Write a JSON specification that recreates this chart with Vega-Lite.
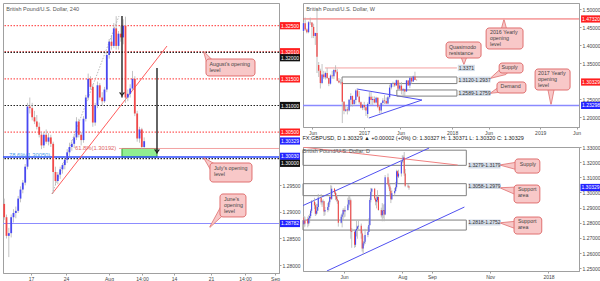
{
"$schema":"https://vega.github.io/schema/vega-lite/v6.json",
"background":"white",
"padding":{"left":1,"top":2,"right":0,"bottom":0},
"config":{
 "font":"Liberation Sans",
 "view":{"stroke":"#a0a0a0"},
 "axis":{"labelFontSize":5,"labelColor":"#444444","domainColor":"#a0a0a0","tickColor":"#a0a0a0","tickSize":2,"labelPadding":1,"grid":false,"labelOverlap":false},
 "title":{"fontSize":5.5,"fontWeight":"normal","color":"#555555","anchor":"start"},
 "legend":{"disable":true}
},
"datasets":{
 "L_c":[
  {"t":-3.83,"o":1.2915,"h":1.2925,"l":1.2885,"c":1.289},
  {"t":-3.5,"o":1.289,"h":1.2895,"l":1.285,"c":1.2855},
  {"t":-3.17,"o":1.2855,"h":1.287,"l":1.2815,"c":1.286},
  {"t":-2.83,"o":1.286,"h":1.2895,"l":1.2852,"c":1.289},
  {"t":-2.5,"o":1.289,"h":1.2905,"l":1.288,"c":1.2898},
  {"t":-2.17,"o":1.2898,"h":1.291,"l":1.2888,"c":1.2902},
  {"t":-1.83,"o":1.2902,"h":1.293,"l":1.2898,"c":1.2925},
  {"t":-1.5,"o":1.2925,"h":1.2948,"l":1.2918,"c":1.2942},
  {"t":-1.17,"o":1.2942,"h":1.296,"l":1.2935,"c":1.2955},
  {"t":-0.83,"o":1.2955,"h":1.299,"l":1.295,"c":1.2985},
  {"t":-0.5,"o":1.2985,"h":1.3105,"l":1.298,"c":1.3098},
  {"t":-0.17,"o":1.3098,"h":1.3115,"l":1.3085,"c":1.3095},
  {"t":0.17,"o":1.3095,"h":1.3105,"l":1.3072,"c":1.3078},
  {"t":0.5,"o":1.3078,"h":1.309,"l":1.3065,"c":1.307},
  {"t":0.83,"o":1.307,"h":1.3082,"l":1.3055,"c":1.306},
  {"t":1.17,"o":1.306,"h":1.3068,"l":1.304,"c":1.3045},
  {"t":1.5,"o":1.3045,"h":1.305,"l":1.3018,"c":1.3025},
  {"t":1.83,"o":1.3025,"h":1.305,"l":1.302,"c":1.3045},
  {"t":2.17,"o":1.3045,"h":1.3055,"l":1.3028,"c":1.3032},
  {"t":2.5,"o":1.3032,"h":1.3048,"l":1.3025,"c":1.304},
  {"t":2.83,"o":1.304,"h":1.3045,"l":1.3022,"c":1.3028},
  {"t":3.17,"o":1.3028,"h":1.3032,"l":1.2935,"c":1.2975},
  {"t":3.5,"o":1.2975,"h":1.2985,"l":1.295,"c":1.2958},
  {"t":3.83,"o":1.2958,"h":1.2975,"l":1.2952,"c":1.297},
  {"t":4.17,"o":1.297,"h":1.2985,"l":1.2962,"c":1.298},
  {"t":4.5,"o":1.298,"h":1.2992,"l":1.2972,"c":1.2988},
  {"t":4.83,"o":1.2988,"h":1.3002,"l":1.298,"c":1.2998},
  {"t":5.17,"o":1.2998,"h":1.3018,"l":1.2992,"c":1.3012},
  {"t":5.5,"o":1.3012,"h":1.303,"l":1.3005,"c":1.3022},
  {"t":5.83,"o":1.3022,"h":1.3035,"l":1.3015,"c":1.3028},
  {"t":6.17,"o":1.3028,"h":1.3045,"l":1.302,"c":1.304},
  {"t":6.5,"o":1.304,"h":1.3078,"l":1.3035,"c":1.307},
  {"t":6.83,"o":1.307,"h":1.3075,"l":1.304,"c":1.3045},
  {"t":7.17,"o":1.3045,"h":1.305,"l":1.3025,"c":1.3035},
  {"t":7.5,"o":1.3035,"h":1.308,"l":1.303,"c":1.3075},
  {"t":7.83,"o":1.3075,"h":1.312,"l":1.307,"c":1.3115},
  {"t":8.17,"o":1.3115,"h":1.316,"l":1.311,"c":1.315},
  {"t":8.5,"o":1.315,"h":1.3155,"l":1.313,"c":1.3135},
  {"t":8.83,"o":1.3135,"h":1.314,"l":1.306,"c":1.3068},
  {"t":9.17,"o":1.3068,"h":1.3105,"l":1.3062,"c":1.31},
  {"t":9.5,"o":1.31,"h":1.3145,"l":1.3095,"c":1.3138},
  {"t":9.83,"o":1.3138,"h":1.3142,"l":1.311,"c":1.3115},
  {"t":10.17,"o":1.3115,"h":1.3125,"l":1.31,"c":1.3108},
  {"t":10.5,"o":1.3108,"h":1.3135,"l":1.3105,"c":1.313},
  {"t":10.83,"o":1.313,"h":1.32,"l":1.3125,"c":1.3195},
  {"t":11.17,"o":1.3195,"h":1.3225,"l":1.3188,"c":1.322},
  {"t":11.5,"o":1.322,"h":1.3232,"l":1.3205,"c":1.3212},
  {"t":11.83,"o":1.3212,"h":1.3255,"l":1.3208,"c":1.3245},
  {"t":12.17,"o":1.3245,"h":1.3268,"l":1.3205,"c":1.3212},
  {"t":12.5,"o":1.3212,"h":1.324,"l":1.3205,"c":1.3235},
  {"t":12.83,"o":1.3235,"h":1.325,"l":1.322,"c":1.3228},
  {"t":13.17,"o":1.3228,"h":1.3262,"l":1.3215,"c":1.325},
  {"t":13.5,"o":1.325,"h":1.3267,"l":1.3105,"c":1.3115},
  {"t":13.83,"o":1.3115,"h":1.313,"l":1.3108,"c":1.3122},
  {"t":14.17,"o":1.3122,"h":1.314,"l":1.3115,"c":1.3132},
  {"t":14.5,"o":1.3132,"h":1.3165,"l":1.3128,"c":1.315},
  {"t":14.83,"o":1.315,"h":1.3155,"l":1.308,"c":1.3085},
  {"t":15.17,"o":1.3085,"h":1.309,"l":1.3032,"c":1.3038},
  {"t":15.5,"o":1.3038,"h":1.306,"l":1.303,"c":1.3055},
  {"t":15.83,"o":1.3055,"h":1.3058,"l":1.3018,"c":1.3022},
  {"t":16.17,"o":1.3022,"h":1.304,"l":1.3019,"c":1.30329}
 ],
 "L_lv":[
  {"p":1.325,"k":"r"},{"p":1.3201,"k":"r"},{"p":1.32,"k":"k"},{"p":1.315,"k":"r"},{"p":1.31,"k":"k"},
  {"p":1.305,"k":"r"},{"p":1.3003,"k":"b"},{"p":1.3,"k":"k"},{"p":1.28782,"k":"lb"}
 ],
 "L_seg":[
  {"t":3,"p":1.29337,"t2":19.43,"p2":1.32118,"k":"tr"},
  {"t":3,"p":1.29337,"t2":12.57,"p2":1.32682,"k":"gd"},
  {"t":12.57,"p":1.30192,"t2":35.43,"p2":1.30192,"k":"fib"},
  {"t":13,"p":1.32682,"t2":13,"p2":1.3115,"k":"ar"},
  {"t":18,"p":1.31705,"t2":18,"p2":1.301,"k":"ar"}
 ],
 "L_zone":[{"t":13,"t2":18,"p":1.30192,"p2":1.3003}],
 "L_head":[{"t":13,"p":1.3122},{"t":18,"p":1.30145}],
 "L_fib":[
  {"t":6.29,"p":1.30192,"txt":"61.8%(1.30192)","k":"a"},
  {"t":-3.14,"p":1.3007,"txt":"78.6%(1.30050)","k":"b"}
 ],
 "L_box":[
  {"id":"aug","t":25.0,"t2":32.0,"p":1.31874,"p2":1.31555},
  {"id":"jul","t":25.57,"t2":31.57,"p":1.29919,"p2":1.29562},
  {"id":"jun","t":27.0,"t2":30.71,"p":1.29337,"p2":1.28905}
 ],
 "L_ptr":[
  {"id":"aug","t":25.71,"p":1.31779,"e":"base"},{"id":"aug","t":24.71,"p":1.32006,"e":"tip"},
  {"id":"jul","t":26.14,"p":1.29825,"e":"base"},{"id":"jul","t":24.71,"p":1.30013,"e":"tip"},
  {"id":"jun","t":27.57,"p":1.29055,"e":"base"},{"id":"jun","t":25.57,"p":1.28716,"e":"tip"}
 ],
 "L_txt":[
  {"t":25.5,"p":1.31827,"txt":"August's opening\nlevel"},
  {"t":26.14,"p":1.29872,"txt":"July's opening\nlevel"},
  {"t":27.57,"p":1.29289,"txt":"June's\nopening\nlevel"}
 ],
 "L_tag":[
  {"t":37,"p":1.325,"lab":"1.32500","k":"r"},{"t":37,"p":1.32011,"lab":"1.32010","k":"r"},{"t":37,"p":1.31898,"lab":"1.32000","k":"k"},
  {"t":37,"p":1.315,"lab":"1.31500","k":"r"},{"t":37,"p":1.31,"lab":"1.31000","k":"k"},{"t":37,"p":1.305,"lab":"1.30500","k":"r"},
  {"t":37,"p":1.30333,"lab":"1.30329","k":"b"},{"t":37,"p":1.30045,"lab":"1.30030","k":"b"},{"t":37,"p":1.29913,"lab":"1.30000","k":"k"},
  {"t":37,"p":1.28782,"lab":"1.28782","k":"b"}
 ],
 "T_c":[
  {"d":"2016-04-25","o":1.44,"h":1.464,"l":1.437,"c":1.4615},
  {"d":"2016-05-02","o":1.4615,"h":1.477,"l":1.44,"c":1.444},
  {"d":"2016-05-09","o":1.444,"h":1.447,"l":1.433,"c":1.4365},
  {"d":"2016-05-16","o":1.4365,"h":1.467,"l":1.4335,"c":1.464},
  {"d":"2016-05-23","o":1.464,"h":1.477,"l":1.457,"c":1.463},
  {"d":"2016-05-30","o":1.463,"h":1.464,"l":1.42,"c":1.451},
  {"d":"2016-06-06","o":1.451,"h":1.46,"l":1.42,"c":1.426},
  {"d":"2016-06-13","o":1.426,"h":1.435,"l":1.401,"c":1.434},
  {"d":"2016-06-20","o":1.434,"h":1.502,"l":1.323,"c":1.368},
  {"d":"2016-06-27","o":1.345,"h":1.3535,"l":1.312,"c":1.3295},
  {"d":"2016-07-04","o":1.3295,"h":1.335,"l":1.28,"c":1.295},
  {"d":"2016-07-11","o":1.295,"h":1.348,"l":1.292,"c":1.319},
  {"d":"2016-07-18","o":1.319,"h":1.329,"l":1.306,"c":1.311},
  {"d":"2016-07-25","o":1.311,"h":1.327,"l":1.305,"c":1.323},
  {"d":"2016-08-01","o":1.323,"h":1.337,"l":1.306,"c":1.309},
  {"d":"2016-08-08","o":1.309,"h":1.31,"l":1.2865,"c":1.2935},
  {"d":"2016-08-15","o":1.2935,"h":1.319,"l":1.291,"c":1.316},
  {"d":"2016-08-22","o":1.316,"h":1.329,"l":1.307,"c":1.314},
  {"d":"2016-08-29","o":1.314,"h":1.334,"l":1.306,"c":1.3315},
  {"d":"2016-09-05","o":1.3315,"h":1.3445,"l":1.322,"c":1.3265},
  {"d":"2016-09-12","o":1.3265,"h":1.334,"l":1.3,"c":1.3015},
  {"d":"2016-09-19","o":1.3015,"h":1.309,"l":1.2945,"c":1.297},
  {"d":"2016-09-26","o":1.297,"h":1.306,"l":1.2915,"c":1.2975},
  {"d":"2016-10-03","o":1.2975,"h":1.299,"l":1.184,"c":1.243},
  {"d":"2016-10-10","o":1.243,"h":1.245,"l":1.2085,"c":1.2185},
  {"d":"2016-10-17","o":1.2185,"h":1.233,"l":1.215,"c":1.222},
  {"d":"2016-10-24","o":1.222,"h":1.229,"l":1.208,"c":1.219},
  {"d":"2016-10-31","o":1.219,"h":1.251,"l":1.216,"c":1.2485},
  {"d":"2016-11-07","o":1.2485,"h":1.267,"l":1.23,"c":1.2595},
  {"d":"2016-11-14","o":1.2595,"h":1.26,"l":1.23,"c":1.237},
  {"d":"2016-11-21","o":1.237,"h":1.251,"l":1.232,"c":1.248},
  {"d":"2016-11-28","o":1.248,"h":1.278,"l":1.238,"c":1.2745},
  {"d":"2016-12-05","o":1.2745,"h":1.2775,"l":1.256,"c":1.258},
  {"d":"2016-12-12","o":1.258,"h":1.273,"l":1.2375,"c":1.2415},
  {"d":"2016-12-19","o":1.2415,"h":1.244,"l":1.225,"c":1.2265},
  {"d":"2016-12-26","o":1.2265,"h":1.237,"l":1.22,"c":1.234},
  {"d":"2017-01-02","o":1.234,"h":1.243,"l":1.22,"c":1.228},
  {"d":"2017-01-09","o":1.228,"h":1.232,"l":1.2035,"c":1.219},
  {"d":"2017-01-16","o":1.209,"h":1.2415,"l":1.1985,"c":1.237},
  {"d":"2017-01-23","o":1.237,"h":1.2705,"l":1.236,"c":1.257},
  {"d":"2017-01-30","o":1.257,"h":1.2705,"l":1.2345,"c":1.248},
  {"d":"2017-02-06","o":1.248,"h":1.258,"l":1.2345,"c":1.2505},
  {"d":"2017-02-13","o":1.2505,"h":1.258,"l":1.2385,"c":1.241},
  {"d":"2017-02-20","o":1.241,"h":1.257,"l":1.238,"c":1.2545},
  {"d":"2017-02-27","o":1.2545,"h":1.2555,"l":1.225,"c":1.2295},
  {"d":"2017-03-06","o":1.2295,"h":1.2315,"l":1.211,"c":1.219},
  {"d":"2017-03-13","o":1.219,"h":1.2415,"l":1.211,"c":1.2395},
  {"d":"2017-03-20","o":1.2395,"h":1.253,"l":1.2345,"c":1.247},
  {"d":"2017-03-27","o":1.247,"h":1.2615,"l":1.237,"c":1.245},
  {"d":"2017-04-03","o":1.245,"h":1.255,"l":1.2365,"c":1.238},
  {"d":"2017-04-10","o":1.238,"h":1.26,"l":1.2365,"c":1.256},
  {"d":"2017-04-17","o":1.256,"h":1.2905,"l":1.2515,"c":1.2825},
  {"d":"2017-04-24","o":1.2825,"h":1.295,"l":1.2775,"c":1.2945},
  {"d":"2017-05-01","o":1.2945,"h":1.299,"l":1.284,"c":1.2955},
  {"d":"2017-05-08","o":1.2955,"h":1.297,"l":1.284,"c":1.2885},
  {"d":"2017-05-15","o":1.2885,"h":1.305,"l":1.288,"c":1.303},
  {"d":"2017-05-22","o":1.303,"h":1.3045,"l":1.2775,"c":1.2795},
  {"d":"2017-05-29","o":1.2795,"h":1.297,"l":1.277,"c":1.288},
  {"d":"2017-06-05","o":1.288,"h":1.298,"l":1.2635,"c":1.2745},
  {"d":"2017-06-12","o":1.2745,"h":1.2815,"l":1.259,"c":1.278},
  {"d":"2017-06-19","o":1.278,"h":1.2795,"l":1.259,"c":1.272},
  {"d":"2017-06-26","o":1.272,"h":1.303,"l":1.2705,"c":1.3025},
  {"d":"2017-07-03","o":1.3025,"h":1.303,"l":1.288,"c":1.2885},
  {"d":"2017-07-10","o":1.2885,"h":1.3125,"l":1.281,"c":1.31},
  {"d":"2017-07-17","o":1.31,"h":1.3125,"l":1.293,"c":1.2995},
  {"d":"2017-07-24","o":1.2995,"h":1.316,"l":1.2985,"c":1.3135},
  {"d":"2017-07-31","o":1.3135,"h":1.3267,"l":1.303,"c":1.3035},
  {"d":"2017-08-07","o":1.3035,"h":1.3057,"l":1.3018,"c":1.30329}
 ],
 "T_lv":[{"p":1.4732,"k":"r"},{"p":1.23298,"k":"b"}],
 "T_seg":[
  {"d":"2016-07-23","p":1.3371,"d2":"2018-01-21","p2":1.3371,"k":"qm"},
  {"d":"2016-12-02","p":1.2786,"d2":"2017-08-29","p2":1.248,"k":"tri"},
  {"d":"2017-01-21","p":1.198,"d2":"2017-08-29","p2":1.248,"k":"tri"}
 ],
 "T_zone":[
  {"d":"2016-10-02","d2":"2018-01-21","p":1.312,"p2":1.2937},
  {"d":"2017-05-17","d2":"2018-01-21","p":1.2759,"p2":1.2589}
 ],
 "T_zlab":[
  {"d":"2018-04-04","p":1.305,"lab":"1.3120-1.2937","w":"wide"},
  {"d":"2018-04-04","p":1.2675,"lab":"1.2589-1.2759","w":"wide"},
  {"d":"2018-03-01","p":1.3371,"lab":"1.3371","w":"narrow"}
 ],
 "T_box":[
  {"id":"y16","d":"2018-05-22","d2":"2018-10-22","p":1.4481,"p2":1.3897},
  {"id":"qm","d":"2017-12-07","d2":"2018-05-01","p":1.4092,"p2":1.3647},
  {"id":"sup","d":"2018-07-15","d2":"2018-10-22","p":1.3508,"p2":1.3231},
  {"id":"dem","d":"2018-07-06","d2":"2018-11-03","p":1.2981,"p2":1.2675},
  {"id":"y17","d":"2018-12-11","d2":"2019-05-05","p":1.3342,"p2":1.2758}
 ],
 "T_ptr":[
  {"id":"y16","d":"2018-08-04","p":1.4314,"e":"base"},{"id":"y16","d":"2018-08-04","p":1.4703,"e":"tip"},
  {"id":"qm","d":"2018-02-19","p":1.3758,"e":"base"},{"id":"qm","d":"2018-02-19","p":1.348,"e":"tip"},
  {"id":"sup","d":"2018-08-04","p":1.3286,"e":"base"},{"id":"sup","d":"2018-06-11","p":1.3092,"e":"tip"},
  {"id":"dem","d":"2018-08-04","p":1.2814,"e":"base"},{"id":"dem","d":"2018-06-11","p":1.2675,"e":"tip"},
  {"id":"y17","d":"2019-02-15","p":1.2897,"e":"base"},{"id":"y17","d":"2019-02-15","p":1.2369,"e":"tip"}
 ],
 "T_txt":[
  {"d":"2018-06-07","p":1.4425,"txt":"2016 Yearly\nopening\nlevel"},
  {"d":"2017-12-19","p":1.4008,"txt":"Quasimodo\nresistance"},
  {"d":"2018-07-25","p":1.3455,"txt":"Supply"},
  {"d":"2018-07-21","p":1.2915,"txt":"Demand"},
  {"d":"2018-12-23","p":1.3286,"txt":"2017 Yearly\nopening\nlevel"}
 ],
 "T_tag":[
  {"d":"2019-07-31","p":1.4732,"lab":"1.47320","k":"r"},{"d":"2019-07-31","p":1.298,"lab":"1.30329","k":"r"},{"d":"2019-07-31","p":1.23298,"lab":"1.23298","k":"b"}
 ],
 "B_c":[
  {"d":"2017-04-18","o":1.2555,"h":1.2905,"l":1.2515,"c":1.2835},
  {"d":"2017-04-19","o":1.2835,"h":1.2845,"l":1.276,"c":1.279},
  {"d":"2017-04-20","o":1.279,"h":1.2845,"l":1.277,"c":1.2815},
  {"d":"2017-04-21","o":1.2815,"h":1.284,"l":1.2775,"c":1.2795},
  {"d":"2017-04-24","o":1.2825,"h":1.284,"l":1.277,"c":1.2795},
  {"d":"2017-04-25","o":1.2795,"h":1.285,"l":1.278,"c":1.283},
  {"d":"2017-04-26","o":1.283,"h":1.286,"l":1.28,"c":1.2845},
  {"d":"2017-04-27","o":1.2845,"h":1.289,"l":1.283,"c":1.288},
  {"d":"2017-04-28","o":1.288,"h":1.295,"l":1.2865,"c":1.294},
  {"d":"2017-05-01","o":1.294,"h":1.2965,"l":1.289,"c":1.2915},
  {"d":"2017-05-02","o":1.2915,"h":1.2935,"l":1.2845,"c":1.286},
  {"d":"2017-05-03","o":1.286,"h":1.2925,"l":1.285,"c":1.288},
  {"d":"2017-05-04","o":1.288,"h":1.2925,"l":1.286,"c":1.2905},
  {"d":"2017-05-05","o":1.2905,"h":1.299,"l":1.288,"c":1.2965},
  {"d":"2017-05-08","o":1.2965,"h":1.299,"l":1.292,"c":1.2935},
  {"d":"2017-05-09","o":1.2935,"h":1.295,"l":1.2905,"c":1.294},
  {"d":"2017-05-10","o":1.294,"h":1.2955,"l":1.292,"c":1.2942},
  {"d":"2017-05-11","o":1.2942,"h":1.2945,"l":1.2845,"c":1.2875},
  {"d":"2017-05-12","o":1.2875,"h":1.2905,"l":1.285,"c":1.2885},
  {"d":"2017-05-15","o":1.2885,"h":1.293,"l":1.287,"c":1.2905},
  {"d":"2017-05-16","o":1.2905,"h":1.2945,"l":1.288,"c":1.2935},
  {"d":"2017-05-17","o":1.2935,"h":1.298,"l":1.292,"c":1.297},
  {"d":"2017-05-18","o":1.297,"h":1.3048,"l":1.2955,"c":1.2958},
  {"d":"2017-05-19","o":1.2958,"h":1.3045,"l":1.295,"c":1.3025},
  {"d":"2017-05-22","o":1.3025,"h":1.303,"l":1.299,"c":1.3},
  {"d":"2017-05-23","o":1.3,"h":1.301,"l":1.295,"c":1.2975},
  {"d":"2017-05-24","o":1.2975,"h":1.2995,"l":1.294,"c":1.2955},
  {"d":"2017-05-25","o":1.2955,"h":1.2975,"l":1.2925,"c":1.2945},
  {"d":"2017-05-26","o":1.2945,"h":1.295,"l":1.2775,"c":1.28},
  {"d":"2017-05-29","o":1.28,"h":1.2855,"l":1.2795,"c":1.284},
  {"d":"2017-05-30","o":1.284,"h":1.2865,"l":1.277,"c":1.2855},
  {"d":"2017-05-31","o":1.2855,"h":1.2895,"l":1.2815,"c":1.2885},
  {"d":"2017-06-01","o":1.2885,"h":1.2895,"l":1.2835,"c":1.2875},
  {"d":"2017-06-02","o":1.2875,"h":1.291,"l":1.284,"c":1.2885},
  {"d":"2017-06-05","o":1.2885,"h":1.2965,"l":1.288,"c":1.292},
  {"d":"2017-06-06","o":1.292,"h":1.298,"l":1.29,"c":1.295},
  {"d":"2017-06-07","o":1.295,"h":1.2975,"l":1.2915,"c":1.2948},
  {"d":"2017-06-08","o":1.2948,"h":1.296,"l":1.2695,"c":1.2745},
  {"d":"2017-06-09","o":1.2745,"h":1.2765,"l":1.2635,"c":1.274},
  {"d":"2017-06-12","o":1.274,"h":1.2755,"l":1.2635,"c":1.2655},
  {"d":"2017-06-13","o":1.2655,"h":1.2755,"l":1.264,"c":1.275},
  {"d":"2017-06-14","o":1.275,"h":1.2815,"l":1.271,"c":1.276},
  {"d":"2017-06-15","o":1.276,"h":1.278,"l":1.2695,"c":1.2775},
  {"d":"2017-06-16","o":1.2775,"h":1.2815,"l":1.2755,"c":1.278},
  {"d":"2017-06-19","o":1.278,"h":1.2795,"l":1.2695,"c":1.273},
  {"d":"2017-06-20","o":1.273,"h":1.2745,"l":1.261,"c":1.263},
  {"d":"2017-06-21","o":1.263,"h":1.268,"l":1.259,"c":1.2665},
  {"d":"2017-06-22","o":1.2665,"h":1.2715,"l":1.265,"c":1.2675},
  {"d":"2017-06-23","o":1.2675,"h":1.276,"l":1.266,"c":1.272},
  {"d":"2017-06-26","o":1.272,"h":1.2775,"l":1.2705,"c":1.274},
  {"d":"2017-06-27","o":1.274,"h":1.283,"l":1.274,"c":1.2785},
  {"d":"2017-06-28","o":1.2785,"h":1.2965,"l":1.278,"c":1.295},
  {"d":"2017-06-29","o":1.295,"h":1.303,"l":1.2935,"c":1.3005},
  {"d":"2017-06-30","o":1.3005,"h":1.303,"l":1.2985,"c":1.3025},
  {"d":"2017-07-03","o":1.3025,"h":1.303,"l":1.295,"c":1.296},
  {"d":"2017-07-04","o":1.296,"h":1.2965,"l":1.2915,"c":1.294},
  {"d":"2017-07-05","o":1.294,"h":1.2975,"l":1.2895,"c":1.295},
  {"d":"2017-07-06","o":1.295,"h":1.3015,"l":1.2935,"c":1.297},
  {"d":"2017-07-07","o":1.297,"h":1.2975,"l":1.288,"c":1.2885},
  {"d":"2017-07-10","o":1.2885,"h":1.29,"l":1.2835,"c":1.285},
  {"d":"2017-07-11","o":1.285,"h":1.293,"l":1.281,"c":1.288},
  {"d":"2017-07-12","o":1.288,"h":1.292,"l":1.283,"c":1.2885},
  {"d":"2017-07-13","o":1.2885,"h":1.2925,"l":1.281,"c":1.2855},
  {"d":"2017-07-14","o":1.2855,"h":1.3115,"l":1.285,"c":1.31},
  {"d":"2017-07-17","o":1.31,"h":1.3125,"l":1.305,"c":1.3055},
  {"d":"2017-07-18","o":1.3055,"h":1.3085,"l":1.3025,"c":1.304},
  {"d":"2017-07-19","o":1.304,"h":1.3055,"l":1.2975,"c":1.301},
  {"d":"2017-07-20","o":1.301,"h":1.303,"l":1.293,"c":1.2955},
  {"d":"2017-07-21","o":1.2955,"h":1.3015,"l":1.295,"c":1.2995},
  {"d":"2017-07-24","o":1.2995,"h":1.303,"l":1.298,"c":1.301},
  {"d":"2017-07-25","o":1.301,"h":1.307,"l":1.3005,"c":1.3035},
  {"d":"2017-07-26","o":1.3035,"h":1.315,"l":1.3025,"c":1.314},
  {"d":"2017-07-27","o":1.314,"h":1.3145,"l":1.306,"c":1.3105},
  {"d":"2017-07-28","o":1.3105,"h":1.315,"l":1.3095,"c":1.3125},
  {"d":"2017-07-31","o":1.3125,"h":1.3215,"l":1.3105,"c":1.3205},
  {"d":"2017-08-01","o":1.3205,"h":1.3245,"l":1.319,"c":1.3215},
  {"d":"2017-08-02","o":1.3215,"h":1.3245,"l":1.3195,"c":1.323},
  {"d":"2017-08-03","o":1.323,"h":1.3267,"l":1.311,"c":1.3125},
  {"d":"2017-08-04","o":1.3125,"h":1.3155,"l":1.3035,"c":1.3045},
  {"d":"2017-08-07","o":1.3045,"h":1.3057,"l":1.303,"c":1.304},
  {"d":"2017-08-08","o":1.304,"h":1.3045,"l":1.3018,"c":1.30329}
 ],
 "B_zone":[
  {"d":"2017-04-19","d2":"2017-10-07","p":1.3279,"p2":1.3179},
  {"d":"2017-04-19","d2":"2017-10-07","p":1.3058,"p2":1.2979},
  {"d":"2017-04-19","d2":"2017-10-07","p":1.2818,"p2":1.2752}
 ],
 "B_seg":[
  {"d":"2017-04-18","p":1.2911,"d2":"2017-08-29","p2":1.3293,"k":"ch"},
  {"d":"2017-05-14","p":1.2482,"d2":"2017-10-05","p2":1.2904,"k":"ch"},
  {"d":"2017-04-18","p":1.33,"d2":"2017-09-28","p2":1.3181,"k":"red"}
 ],
 "B_zlab":[
  {"d":"2017-10-26","p":1.3178,"lab":"1.3279-1.3179"},
  {"d":"2017-10-26","p":1.3043,"lab":"1.3058-1.2979"},
  {"d":"2017-10-26","p":1.2802,"lab":"1.2818-1.2752"}
 ],
 "B_box":[
  {"id":"sup","d":"2017-11-27","d2":"2017-12-23","p":1.3221,"p2":1.3128},
  {"id":"sa1","d":"2017-11-26","d2":"2017-12-23","p":1.3049,"p2":1.2931},
  {"id":"sa2","d":"2017-11-26","d2":"2017-12-25","p":1.2838,"p2":1.2726}
 ],
 "B_ptr":[
  {"id":"sup","d":"2017-11-30","p":1.3175,"e":"base"},{"id":"sup","d":"2017-11-12","p":1.3181,"e":"tip"},
  {"id":"sa1","d":"2017-11-29","p":1.301,"e":"base"},{"id":"sa1","d":"2017-11-12","p":1.303,"e":"tip"},
  {"id":"sa2","d":"2017-11-29","p":1.2785,"e":"base"},{"id":"sa2","d":"2017-11-12","p":1.2799,"e":"tip"}
 ],
 "B_txt":[
  {"d":"2017-12-02","p":1.3201,"txt":"Supply"},
  {"d":"2017-11-30","p":1.3033,"txt":"Support\narea"},
  {"d":"2017-11-30","p":1.2822,"txt":"Support\narea"}
 ],
 "B_tag":[{"d":"2018-02-14","p":1.30329,"lab":"1.30329","k":"b"}]
},
"hconcat":[
 {
  "width":276,"height":270,
  "title":{"text":"British Pound/U.S. Dollar, 240","offset":-9,"dx":4},
  "layer":[
   {"data":{"name":"L_zone"},"mark":{"type":"rect","fill":"#90ee90","stroke":"#2c9e2c","strokeWidth":1},
    "encoding":{
     "x":{"field":"t","type":"quantitative","title":null,"scale":{"domain":[-4,35.43],"nice":false,"zero":false},
          "axis":{"orient":"bottom","values":[0,5,11.14,15.86,20.43,25.71,30.57,34.86],"tickCount":30,"labelFlush":false,"labelOverlap":false,"labelBound":false,
          "labelExpr":"datum.value<1?'17':datum.value<6?'24':datum.value<12?'Aug':datum.value<16?'14:00':datum.value<21?'14':datum.value<26?'21':datum.value<31?'14:00':'Sep'"}},
     "x2":{"field":"t2"},
     "y":{"field":"p","type":"quantitative","title":null,"scale":{"domain":[1.278515,1.329267],"nice":false,"zero":false},
          "axis":{"orient":"right","values":[1.28,1.285,1.29,1.295],"tickCount":30,"format":".5f","labelOverlap":false}},
     "y2":{"field":"p2"}}},
   {"data":{"name":"L_lv"},"transform":[{"filter":"datum.k=='r'"}],"mark":{"type":"rule","color":"#ff3030","strokeWidth":1,"strokeDash":[1.5,1.5]},
    "encoding":{"y":{"field":"p","type":"quantitative","title":null,"scale":{"domain":[1.278515,1.329267],"nice":false,"zero":false}}}},
   {"data":{"name":"L_lv"},"transform":[{"filter":"datum.k=='k'"}],"mark":{"type":"rule","color":"#222222","strokeWidth":1.2,"strokeDash":[1.5,1.5]},
    "encoding":{"y":{"field":"p","type":"quantitative","title":null,"scale":{"domain":[1.278515,1.329267],"nice":false,"zero":false}}}},
   {"data":{"name":"L_lv"},"transform":[{"filter":"datum.k=='b'"}],"mark":{"type":"rule","color":"#2f4cff","strokeWidth":1.5},
    "encoding":{"y":{"field":"p","type":"quantitative","title":null,"scale":{"domain":[1.278515,1.329267],"nice":false,"zero":false}}}},
   {"data":{"name":"L_lv"},"transform":[{"filter":"datum.k=='lb'"}],"mark":{"type":"rule","color":"#8c8cff","strokeWidth":1.2},
    "encoding":{"y":{"field":"p","type":"quantitative","title":null,"scale":{"domain":[1.278515,1.329267],"nice":false,"zero":false}}}},
   {"data":{"name":"L_seg"},"transform":[{"filter":"datum.k=='tr'"}],"mark":{"type":"rule","color":"#ff5c5c","strokeWidth":1},
    "encoding":{"x":{"field":"t","type":"quantitative","title":null,"scale":{"domain":[-4,35.43],"nice":false,"zero":false}},"x2":{"field":"t2"},
     "y":{"field":"p","type":"quantitative","title":null,"scale":{"domain":[1.278515,1.329267],"nice":false,"zero":false}},"y2":{"field":"p2"}}},
   {"data":{"name":"L_seg"},"transform":[{"filter":"datum.k=='gd'"}],"mark":{"type":"rule","color":"#a8a8a8","strokeWidth":0.8,"strokeDash":[1.5,1.5]},
    "encoding":{"x":{"field":"t","type":"quantitative","title":null,"scale":{"domain":[-4,35.43],"nice":false,"zero":false}},"x2":{"field":"t2"},
     "y":{"field":"p","type":"quantitative","title":null,"scale":{"domain":[1.278515,1.329267],"nice":false,"zero":false}},"y2":{"field":"p2"}}},
   {"data":{"name":"L_seg"},"transform":[{"filter":"datum.k=='fib'"}],"mark":{"type":"rule","color":"#f08c8c","strokeWidth":0.8},
    "encoding":{"x":{"field":"t","type":"quantitative","title":null,"scale":{"domain":[-4,35.43],"nice":false,"zero":false}},"x2":{"field":"t2"},
     "y":{"field":"p","type":"quantitative","title":null,"scale":{"domain":[1.278515,1.329267],"nice":false,"zero":false}},"y2":{"field":"p2"}}},
   {"data":{"name":"L_c"},"mark":{"type":"rule","color":"#b4b4b4","strokeWidth":0.8},
    "encoding":{"x":{"field":"t","type":"quantitative","title":null,"scale":{"domain":[-4,35.43],"nice":false,"zero":false}},
     "y":{"field":"l","type":"quantitative","title":null,"scale":{"domain":[1.278515,1.329267],"nice":false,"zero":false}},"y2":{"field":"h"}}},
   {"data":{"name":"L_c"},"mark":{"type":"rule","strokeWidth":1.8},
    "encoding":{"x":{"field":"t","type":"quantitative","title":null,"scale":{"domain":[-4,35.43],"nice":false,"zero":false}},
     "y":{"field":"o","type":"quantitative","title":null,"scale":{"domain":[1.278515,1.329267],"nice":false,"zero":false}},"y2":{"field":"c"},
     "color":{"condition":{"test":"datum.c>=datum.o","value":"#4848f2"},"value":"#f24848"}}},
   {"data":{"name":"L_seg"},"transform":[{"filter":"datum.k=='ar'"}],"mark":{"type":"rule","color":"#222222","strokeWidth":1.4},
    "encoding":{"x":{"field":"t","type":"quantitative","title":null,"scale":{"domain":[-4,35.43],"nice":false,"zero":false}},"x2":{"field":"t2"},
     "y":{"field":"p","type":"quantitative","title":null,"scale":{"domain":[1.278515,1.329267],"nice":false,"zero":false}},"y2":{"field":"p2"}}},
   {"data":{"name":"L_head"},"mark":{"type":"point","shape":"M-0.8,-0.5L0,0.5L0.8,-0.5","filled":false,"stroke":"#222222","strokeWidth":1.2,"size":36,"opacity":1},
    "encoding":{"x":{"field":"t","type":"quantitative","title":null,"scale":{"domain":[-4,35.43],"nice":false,"zero":false}},
     "y":{"field":"p","type":"quantitative","title":null,"scale":{"domain":[1.278515,1.329267],"nice":false,"zero":false}}}},
   {"data":{"name":"L_fib"},"mark":{"type":"text","fontSize":5.8,"align":"left","baseline":"middle"},
    "encoding":{"x":{"field":"t","type":"quantitative","title":null,"scale":{"domain":[-4,35.43],"nice":false,"zero":false}},
     "y":{"field":"p","type":"quantitative","title":null,"scale":{"domain":[1.278515,1.329267],"nice":false,"zero":false}},
     "text":{"field":"txt"},"color":{"condition":{"test":"datum.k=='a'","value":"#e06666"},"value":"#4a9be6"}}},
   {"data":{"name":"L_ptr"},"mark":{"type":"trail","fill":"#f8c8c8","stroke":"#e07070","strokeWidth":0.8},
    "encoding":{"x":{"field":"t","type":"quantitative","title":null,"scale":{"domain":[-4,35.43],"nice":false,"zero":false}},
     "y":{"field":"p","type":"quantitative","title":null,"scale":{"domain":[1.278515,1.329267],"nice":false,"zero":false}},
     "size":{"field":"e","type":"ordinal","scale":{"domain":["base","tip"],"range":[8,0.5]}},"detail":{"field":"id"},"order":{"field":"e"}}},
   {"data":{"name":"L_box"},"mark":{"type":"rect","fill":"#f8c8c8","stroke":"#e07070","strokeWidth":1,"cornerRadius":3},
    "encoding":{"x":{"field":"t","type":"quantitative","title":null,"scale":{"domain":[-4,35.43],"nice":false,"zero":false}},"x2":{"field":"t2"},
     "y":{"field":"p","type":"quantitative","title":null,"scale":{"domain":[1.278515,1.329267],"nice":false,"zero":false}},"y2":{"field":"p2"}}},
   {"data":{"name":"L_txt"},"mark":{"type":"text","align":"left","baseline":"top","fontSize":5.3,"lineHeight":6,"lineBreak":"\n","color":"#444444"},
    "encoding":{"x":{"field":"t","type":"quantitative","title":null,"scale":{"domain":[-4,35.43],"nice":false,"zero":false}},
     "y":{"field":"p","type":"quantitative","title":null,"scale":{"domain":[1.278515,1.329267],"nice":false,"zero":false}},"text":{"field":"txt"}}},
   {"data":{"name":"L_tag"},"mark":{"type":"point","shape":"M-1,-0.36H1V0.36H-1Z","size":400,"filled":true,"opacity":1,"strokeWidth":0},
    "encoding":{"x":{"field":"t","type":"quantitative","title":null,"scale":{"domain":[-4,35.43],"nice":false,"zero":false}},
     "y":{"field":"p","type":"quantitative","title":null,"scale":{"domain":[1.278515,1.329267],"nice":false,"zero":false}},
     "color":{"field":"k","type":"nominal","scale":{"domain":["r","k","b"],"range":["#ff1f1f","#111111","#2424ff"]}}}},
   {"data":{"name":"L_tag"},"mark":{"type":"text","color":"white","fontSize":5,"align":"center","baseline":"middle"},
    "encoding":{"x":{"field":"t","type":"quantitative","title":null,"scale":{"domain":[-4,35.43],"nice":false,"zero":false}},
     "y":{"field":"p","type":"quantitative","title":null,"scale":{"domain":[1.278515,1.329267],"nice":false,"zero":false}},"text":{"field":"lab"}}}
  ]
 },
 {
  "vconcat":[
   {
    "width":276,"height":124,
    "title":{"text":"British Pound/U.S. Dollar, W","offset":-9,"dx":4},
    "layer":[
     {"data":{"name":"T_lv"},"transform":[{"filter":"datum.k=='r'"}],"mark":{"type":"rule","color":"#f06060","strokeWidth":1},
      "encoding":{"y":{"field":"p","type":"quantitative","title":null,"scale":{"domain":[1.173056,1.5175],"nice":false,"zero":false},
        "axis":{"orient":"right","values":[1.2,1.25,1.35,1.4,1.45,1.5],"tickCount":30,"format":".5f","labelOverlap":false}}}},
     {"data":{"name":"T_lv"},"transform":[{"filter":"datum.k=='b'"}],"mark":{"type":"rule","color":"#8a8aff","strokeWidth":1.6},
      "encoding":{"y":{"field":"p","type":"quantitative","title":null,"scale":{"domain":[1.173056,1.5175],"nice":false,"zero":false}}}},
     {"data":{"name":"T_seg"},"transform":[{"filter":"datum.k=='qm'"}],"mark":{"type":"rule","color":"#f4a0a0","strokeWidth":1},
      "encoding":{"x":{"field":"d","type":"temporal","title":null,"scale":{"type":"utc","domain":[{"year":2016,"month":4,"date":23,"utc":true},{"year":2019,"month":6,"date":11,"utc":true}]},
        "axis":{"orient":"bottom","labelFlush":false,"labelOverlap":false,"tickCount":30,
         "values":[{"year":2016,"month":6,"date":1,"utc":true},{"year":2017,"month":1,"date":1,"utc":true},{"year":2017,"month":6,"date":1,"utc":true},{"year":2018,"month":1,"date":1,"utc":true},{"year":2018,"month":6,"date":1,"utc":true},{"year":2019,"month":1,"date":1,"utc":true},{"year":2019,"month":6,"date":1,"utc":true}],
         "labelExpr":"utcFormat(datum.value,'%m')=='01'?utcFormat(datum.value,'%Y'):utcFormat(datum.value,'%b')"}},
       "x2":{"field":"d2"},
       "y":{"field":"p","type":"quantitative","title":null,"scale":{"domain":[1.173056,1.5175],"nice":false,"zero":false}},"y2":{"field":"p2"}}},
     {"data":{"name":"T_seg"},"transform":[{"filter":"datum.k=='tri'"}],"mark":{"type":"rule","color":"#5050f0","strokeWidth":1},
      "encoding":{"x":{"field":"d","type":"temporal","title":null,"scale":{"type":"utc","domain":[{"year":2016,"month":4,"date":23,"utc":true},{"year":2019,"month":6,"date":11,"utc":true}]}},"x2":{"field":"d2"},
       "y":{"field":"p","type":"quantitative","title":null,"scale":{"domain":[1.173056,1.5175],"nice":false,"zero":false}},"y2":{"field":"p2"}}},
     {"data":{"name":"T_zone"},"mark":{"type":"rect","fill":"white","fillOpacity":0,"stroke":"#808080","strokeWidth":1},
      "encoding":{"x":{"field":"d","type":"temporal","title":null,"scale":{"type":"utc","domain":[{"year":2016,"month":4,"date":23,"utc":true},{"year":2019,"month":6,"date":11,"utc":true}]}},"x2":{"field":"d2"},
       "y":{"field":"p","type":"quantitative","title":null,"scale":{"domain":[1.173056,1.5175],"nice":false,"zero":false}},"y2":{"field":"p2"}}},
     {"data":{"name":"T_c"},"mark":{"type":"rule","color":"#b4b4b4","strokeWidth":0.8},
      "encoding":{"x":{"field":"d","type":"temporal","title":null,"scale":{"type":"utc","domain":[{"year":2016,"month":4,"date":23,"utc":true},{"year":2019,"month":6,"date":11,"utc":true}]}},
       "y":{"field":"l","type":"quantitative","title":null,"scale":{"domain":[1.173056,1.5175],"nice":false,"zero":false}},"y2":{"field":"h"}}},
     {"data":{"name":"T_c"},"mark":{"type":"rule","strokeWidth":1.3},
      "encoding":{"x":{"field":"d","type":"temporal","title":null,"scale":{"type":"utc","domain":[{"year":2016,"month":4,"date":23,"utc":true},{"year":2019,"month":6,"date":11,"utc":true}]}},
       "y":{"field":"o","type":"quantitative","title":null,"scale":{"domain":[1.173056,1.5175],"nice":false,"zero":false}},"y2":{"field":"c"},
       "color":{"condition":{"test":"datum.c>=datum.o","value":"#4848f2"},"value":"#f24848"}}},
     {"data":{"name":"T_zlab"},"transform":[{"filter":"datum.w=='wide'"}],"mark":{"type":"point","shape":"M-1,-0.19H1V0.19H-1Z","size":1024,"filled":true,"opacity":1,"color":"#d3dce8","strokeWidth":0},
      "encoding":{"x":{"field":"d","type":"temporal","title":null,"scale":{"type":"utc","domain":[{"year":2016,"month":4,"date":23,"utc":true},{"year":2019,"month":6,"date":11,"utc":true}]}},
       "y":{"field":"p","type":"quantitative","title":null,"scale":{"domain":[1.173056,1.5175],"nice":false,"zero":false}}}},
     {"data":{"name":"T_zlab"},"transform":[{"filter":"datum.w=='narrow'"}],"mark":{"type":"point","shape":"M-1,-0.37H1V0.37H-1Z","size":289,"filled":true,"opacity":1,"color":"#d3dce8","strokeWidth":0},
      "encoding":{"x":{"field":"d","type":"temporal","title":null,"scale":{"type":"utc","domain":[{"year":2016,"month":4,"date":23,"utc":true},{"year":2019,"month":6,"date":11,"utc":true}]}},
       "y":{"field":"p","type":"quantitative","title":null,"scale":{"domain":[1.173056,1.5175],"nice":false,"zero":false}}}},
     {"data":{"name":"T_zlab"},"mark":{"type":"text","fontSize":5,"color":"#333333","align":"center","baseline":"middle"},
      "encoding":{"x":{"field":"d","type":"temporal","title":null,"scale":{"type":"utc","domain":[{"year":2016,"month":4,"date":23,"utc":true},{"year":2019,"month":6,"date":11,"utc":true}]}},
       "y":{"field":"p","type":"quantitative","title":null,"scale":{"domain":[1.173056,1.5175],"nice":false,"zero":false}},"text":{"field":"lab"}}},
     {"data":{"name":"T_ptr"},"mark":{"type":"trail","fill":"#f8c8c8","stroke":"#e07070","strokeWidth":0.8},
      "encoding":{"x":{"field":"d","type":"temporal","title":null,"scale":{"type":"utc","domain":[{"year":2016,"month":4,"date":23,"utc":true},{"year":2019,"month":6,"date":11,"utc":true}]}},
       "y":{"field":"p","type":"quantitative","title":null,"scale":{"domain":[1.173056,1.5175],"nice":false,"zero":false}},
       "size":{"field":"e","type":"ordinal","scale":{"domain":["base","tip"],"range":[8,0.5]}},"detail":{"field":"id"},"order":{"field":"e"}}},
     {"data":{"name":"T_box"},"mark":{"type":"rect","fill":"#f8c8c8","stroke":"#e07070","strokeWidth":1,"cornerRadius":3},
      "encoding":{"x":{"field":"d","type":"temporal","title":null,"scale":{"type":"utc","domain":[{"year":2016,"month":4,"date":23,"utc":true},{"year":2019,"month":6,"date":11,"utc":true}]}},"x2":{"field":"d2"},
       "y":{"field":"p","type":"quantitative","title":null,"scale":{"domain":[1.173056,1.5175],"nice":false,"zero":false}},"y2":{"field":"p2"}}},
     {"data":{"name":"T_txt"},"mark":{"type":"text","align":"left","baseline":"top","fontSize":5.3,"lineHeight":6,"lineBreak":"\n","color":"#444444"},
      "encoding":{"x":{"field":"d","type":"temporal","title":null,"scale":{"type":"utc","domain":[{"year":2016,"month":4,"date":23,"utc":true},{"year":2019,"month":6,"date":11,"utc":true}]}},
       "y":{"field":"p","type":"quantitative","title":null,"scale":{"domain":[1.173056,1.5175],"nice":false,"zero":false}},"text":{"field":"txt"}}},
     {"data":{"name":"T_tag"},"mark":{"type":"point","shape":"M-1,-0.36H1V0.36H-1Z","size":400,"filled":true,"opacity":1,"strokeWidth":0},
      "encoding":{"x":{"field":"d","type":"temporal","title":null,"scale":{"type":"utc","domain":[{"year":2016,"month":4,"date":23,"utc":true},{"year":2019,"month":6,"date":11,"utc":true}]}},
       "y":{"field":"p","type":"quantitative","title":null,"scale":{"domain":[1.173056,1.5175],"nice":false,"zero":false}},
       "color":{"field":"k","type":"nominal","scale":{"domain":["r","k","b"],"range":["#ff1f1f","#111111","#2424ff"]}}}},
     {"data":{"name":"T_tag"},"mark":{"type":"text","color":"white","fontSize":5,"align":"center","baseline":"middle"},
      "encoding":{"x":{"field":"d","type":"temporal","title":null,"scale":{"type":"utc","domain":[{"year":2016,"month":4,"date":23,"utc":true},{"year":2019,"month":6,"date":11,"utc":true}]}},
       "y":{"field":"p","type":"quantitative","title":null,"scale":{"domain":[1.173056,1.5175],"nice":false,"zero":false}},"text":{"field":"lab"}}}
    ]
   },
   {
    "width":276,"height":124,
    "title":{"text":"FX:GBPUSD, D  1.30329 \u25b2 +0.00002 (+0%)  O: 1.30327  H: 1.30371  L: 1.30320  C: 1.30329","subtitle":"British Pound/U.S. Dollar, D","offset":-9,"subtitlePadding":7,"color":"#222222","subtitleColor":"#555555","subtitleFontSize":5.5,"fontSize":5.5},
    "layer":[
     {"data":{"name":"B_zone"},"mark":{"type":"rect","fill":"white","fillOpacity":0,"stroke":"#808080","strokeWidth":1},
      "encoding":{"x":{"field":"d","type":"temporal","title":null,"scale":{"type":"utc","domain":[{"year":2017,"month":4,"date":19,"utc":true},{"year":2018,"month":2,"date":2,"utc":true}]},
        "axis":{"orient":"bottom","labelFlush":false,"labelOverlap":false,"tickCount":30,
         "values":[{"year":2017,"month":6,"date":1,"utc":true},{"year":2017,"month":8,"date":1,"utc":true},{"year":2017,"month":9,"date":1,"utc":true},{"year":2017,"month":11,"date":1,"utc":true},{"year":2018,"month":1,"date":1,"utc":true}],
         "labelExpr":"utcFormat(datum.value,'%m')=='01'?utcFormat(datum.value,'%Y'):utcFormat(datum.value,'%b')"}},
       "x2":{"field":"d2"},
       "y":{"field":"p","type":"quantitative","title":null,"scale":{"domain":[1.248206,1.33],"nice":false,"zero":false},
        "axis":{"orient":"right","values":[1.25,1.26,1.27,1.28,1.29,1.3,1.31,1.32,1.33],"tickCount":30,"format":".5f","labelOverlap":false}},
       "y2":{"field":"p2"}}},
     {"data":{"name":"B_seg"},"transform":[{"filter":"datum.k=='ch'"}],"mark":{"type":"rule","color":"#5050f0","strokeWidth":1,"clip":true},
      "encoding":{"x":{"field":"d","type":"temporal","title":null,"scale":{"type":"utc","domain":[{"year":2017,"month":4,"date":19,"utc":true},{"year":2018,"month":2,"date":2,"utc":true}]}},"x2":{"field":"d2"},
       "y":{"field":"p","type":"quantitative","title":null,"scale":{"domain":[1.248206,1.33],"nice":false,"zero":false}},"y2":{"field":"p2"}}},
     {"data":{"name":"B_seg"},"transform":[{"filter":"datum.k=='red'"}],"mark":{"type":"rule","color":"#f08080","strokeWidth":1,"clip":true},
      "encoding":{"x":{"field":"d","type":"temporal","title":null,"scale":{"type":"utc","domain":[{"year":2017,"month":4,"date":19,"utc":true},{"year":2018,"month":2,"date":2,"utc":true}]}},"x2":{"field":"d2"},
       "y":{"field":"p","type":"quantitative","title":null,"scale":{"domain":[1.248206,1.33],"nice":false,"zero":false}},"y2":{"field":"p2"}}},
     {"data":{"name":"B_c"},"mark":{"type":"rule","color":"#b4b4b4","strokeWidth":0.8,"clip":true},
      "encoding":{"x":{"field":"d","type":"temporal","title":null,"scale":{"type":"utc","domain":[{"year":2017,"month":4,"date":19,"utc":true},{"year":2018,"month":2,"date":2,"utc":true}]}},
       "y":{"field":"l","type":"quantitative","title":null,"scale":{"domain":[1.248206,1.33],"nice":false,"zero":false}},"y2":{"field":"h"}}},
     {"data":{"name":"B_c"},"mark":{"type":"rule","strokeWidth":1.1,"clip":true},
      "encoding":{"x":{"field":"d","type":"temporal","title":null,"scale":{"type":"utc","domain":[{"year":2017,"month":4,"date":19,"utc":true},{"year":2018,"month":2,"date":2,"utc":true}]}},
       "y":{"field":"o","type":"quantitative","title":null,"scale":{"domain":[1.248206,1.33],"nice":false,"zero":false}},"y2":{"field":"c"},
       "color":{"condition":{"test":"datum.c>=datum.o","value":"#4848f2"},"value":"#f24848"}}},
     {"data":{"name":"B_zlab"},"mark":{"type":"point","shape":"M-1,-0.19H1V0.19H-1Z","size":1024,"filled":true,"opacity":1,"color":"#d3dce8","strokeWidth":0},
      "encoding":{"x":{"field":"d","type":"temporal","title":null,"scale":{"type":"utc","domain":[{"year":2017,"month":4,"date":19,"utc":true},{"year":2018,"month":2,"date":2,"utc":true}]}},
       "y":{"field":"p","type":"quantitative","title":null,"scale":{"domain":[1.248206,1.33],"nice":false,"zero":false}}}},
     {"data":{"name":"B_zlab"},"mark":{"type":"text","fontSize":5,"color":"#333333","align":"center","baseline":"middle"},
      "encoding":{"x":{"field":"d","type":"temporal","title":null,"scale":{"type":"utc","domain":[{"year":2017,"month":4,"date":19,"utc":true},{"year":2018,"month":2,"date":2,"utc":true}]}},
       "y":{"field":"p","type":"quantitative","title":null,"scale":{"domain":[1.248206,1.33],"nice":false,"zero":false}},"text":{"field":"lab"}}},
     {"data":{"name":"B_ptr"},"mark":{"type":"trail","fill":"#f8c8c8","stroke":"#e07070","strokeWidth":0.8},
      "encoding":{"x":{"field":"d","type":"temporal","title":null,"scale":{"type":"utc","domain":[{"year":2017,"month":4,"date":19,"utc":true},{"year":2018,"month":2,"date":2,"utc":true}]}},
       "y":{"field":"p","type":"quantitative","title":null,"scale":{"domain":[1.248206,1.33],"nice":false,"zero":false}},
       "size":{"field":"e","type":"ordinal","scale":{"domain":["base","tip"],"range":[8,0.5]}},"detail":{"field":"id"},"order":{"field":"e"}}},
     {"data":{"name":"B_box"},"mark":{"type":"rect","fill":"#f8c8c8","stroke":"#e07070","strokeWidth":1,"cornerRadius":3},
      "encoding":{"x":{"field":"d","type":"temporal","title":null,"scale":{"type":"utc","domain":[{"year":2017,"month":4,"date":19,"utc":true},{"year":2018,"month":2,"date":2,"utc":true}]}},"x2":{"field":"d2"},
       "y":{"field":"p","type":"quantitative","title":null,"scale":{"domain":[1.248206,1.33],"nice":false,"zero":false}},"y2":{"field":"p2"}}},
     {"data":{"name":"B_txt"},"mark":{"type":"text","align":"left","baseline":"top","fontSize":5.3,"lineHeight":6,"lineBreak":"\n","color":"#444444"},
      "encoding":{"x":{"field":"d","type":"temporal","title":null,"scale":{"type":"utc","domain":[{"year":2017,"month":4,"date":19,"utc":true},{"year":2018,"month":2,"date":2,"utc":true}]}},
       "y":{"field":"p","type":"quantitative","title":null,"scale":{"domain":[1.248206,1.33],"nice":false,"zero":false}},"text":{"field":"txt"}}},
     {"data":{"name":"B_tag"},"mark":{"type":"point","shape":"M-1,-0.36H1V0.36H-1Z","size":400,"filled":true,"opacity":1,"strokeWidth":0,"color":"#2424ff"},
      "encoding":{"x":{"field":"d","type":"temporal","title":null,"scale":{"type":"utc","domain":[{"year":2017,"month":4,"date":19,"utc":true},{"year":2018,"month":2,"date":2,"utc":true}]}},
       "y":{"field":"p","type":"quantitative","title":null,"scale":{"domain":[1.248206,1.33],"nice":false,"zero":false}}}},
     {"data":{"name":"B_tag"},"mark":{"type":"text","color":"white","fontSize":5,"align":"center","baseline":"middle"},
      "encoding":{"x":{"field":"d","type":"temporal","title":null,"scale":{"type":"utc","domain":[{"year":2017,"month":4,"date":19,"utc":true},{"year":2018,"month":2,"date":2,"utc":true}]}},
       "y":{"field":"p","type":"quantitative","title":null,"scale":{"domain":[1.248206,1.33],"nice":false,"zero":false}},"text":{"field":"lab"}}}
    ]
   }
  ],
  "spacing":20,
  "bounds":"flush"
 }
],
"spacing":24,
"bounds":"flush"
}
